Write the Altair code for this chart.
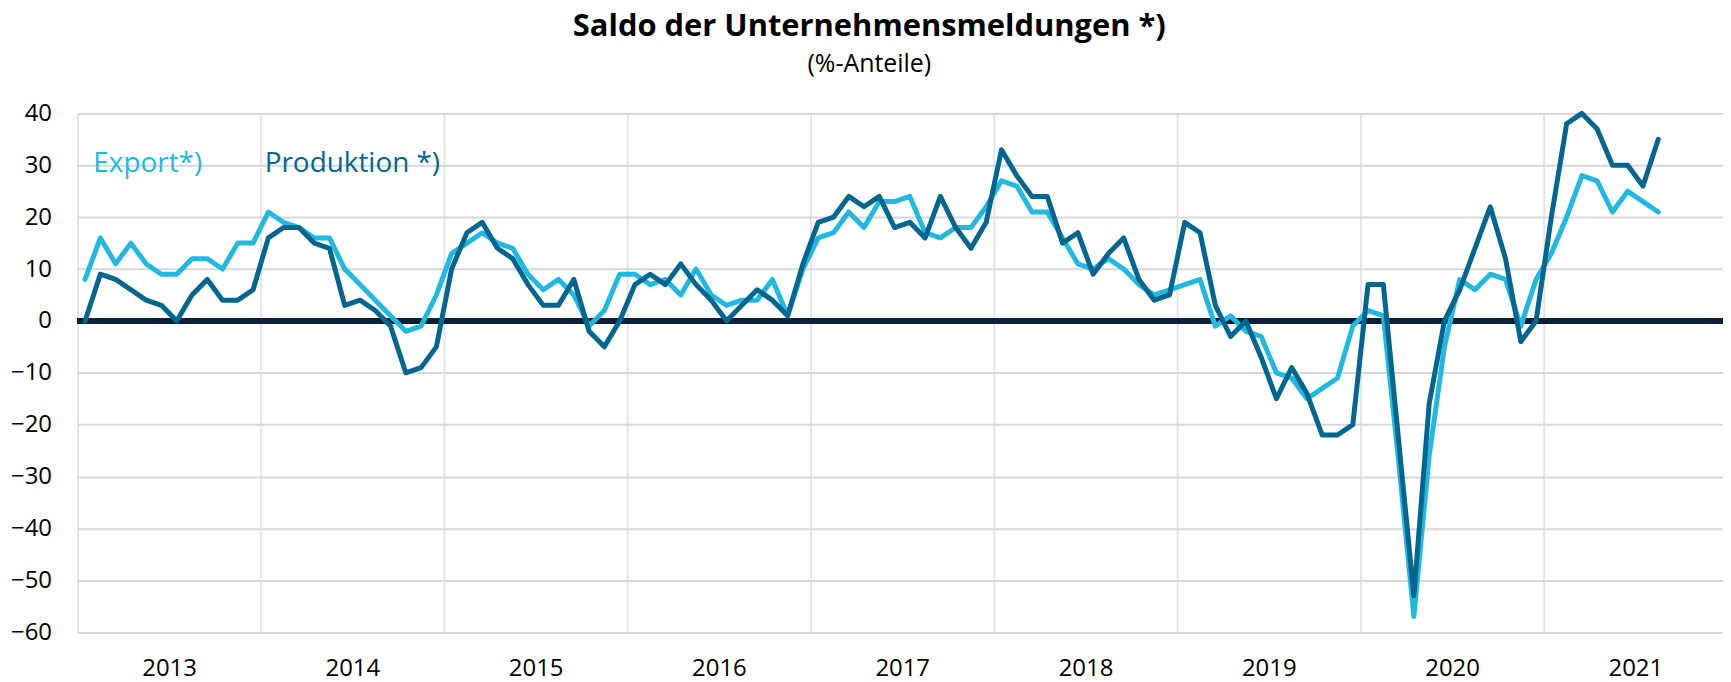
import altair as alt
import pandas as pd

# ---- data (monthly, Jan 2013 .. Aug 2021) ----
first_year = 2013
years = list(range(2013, 2022))
series_names = ["Export*)", "Produktion *)"]
series_colors = ["#21B9E0", "#00658F"]

export = [
    8, 16, 11, 15, 11, 9, 9, 12, 12, 10, 15, 15,          # 2013
    21, 19, 18, 16, 16, 10, 7, 4, 1, -2, -1, 5,           # 2014
    13, 15, 17, 15, 14, 9, 6, 8, 5, -1, 2, 9,             # 2015
    9, 7, 8, 5, 10, 5, 3, 4, 4, 8, 1, 10,                 # 2016
    16, 17, 21, 18, 23, 23, 24, 17, 16, 18, 18, 22,       # 2017
    27, 26, 21, 21, 16, 11, 10, 12, 10, 7, 5, 6,          # 2018
    7, 8, -1, 1, -2, -3, -10, -11, -15, -13, -11, -1,     # 2019
    2, 1, -27, -57, -26, -5, 8, 6, 9, 8, -1, 8,           # 2020
    13, 20, 28, 27, 21, 25, 23, 21,                       # 2021
]
produktion = [
    0, 9, 8, 6, 4, 3, 0, 5, 8, 4, 4, 6,                   # 2013
    16, 18, 18, 15, 14, 3, 4, 2, -1, -10, -9, -5,         # 2014
    10, 17, 19, 14, 12, 7, 3, 3, 8, -2, -5, 0,            # 2015
    7, 9, 7, 11, 7, 4, 0, 3, 6, 4, 1, 11,                 # 2016
    19, 20, 24, 22, 24, 18, 19, 16, 24, 18, 14, 19,       # 2017
    33, 28, 24, 24, 15, 17, 9, 13, 16, 8, 4, 5,           # 2018
    19, 17, 3, -3, 0, -7, -15, -9, -14, -22, -22, -20,    # 2019
    7, 7, -23, -53, -16, 0, 6, 14, 22, 12, -4, 0,         # 2020
    20, 38, 40, 37, 30, 30, 26, 35,                       # 2021
]
y_ticks = list(range(-60, 41, 10))

months = list(range(len(export)))
rows = []
for name, vals in zip(series_names, [export, produktion]):
    for m, v in zip(months, vals):
        rows.append({"m": m, "series": name, "value": v})
df = pd.DataFrame(rows)

# ---- layout ----
W = 1652
H = 520.8
month_px = 1656 / 108.0
x_end = -0.5 + W / month_px
boundaries = [-0.5 + 12 * k for k in range(len(years))]

FONT = "Open Sans"

x_enc = alt.X(
    "m:Q",
    scale=alt.Scale(domain=[-0.5, x_end], nice=False, zero=False),
    axis=alt.Axis(
        values=boundaries, grid=True, gridColor="#E3E5E7", gridWidth=2,
        domain=False, ticks=False, tickSize=0,
        labelExpr=f"'' + ({first_year} + round((datum.value + 0.5) / 12))",
        labelOffset=6 * month_px, labelPadding=24,
        labelFont=FONT, labelFontSize=24, labelColor="#000000",
        labelBound=False, labelFlush=False, labelOverlap=False, title=None,
    ),
)
y_enc = alt.Y(
    "value:Q",
    scale=alt.Scale(domain=[-60, 40], nice=False, zero=False),
    axis=alt.Axis(
        values=y_ticks, grid=True, gridColor="#D6D9DC", gridWidth=2,
        domain=False, ticks=False, tickSize=0, labelPadding=26,
        labelFont=FONT, labelFontSize=24, labelColor="#000000", title=None,
    ),
)

zero_line = alt.Chart(df).mark_rule(color="#0E2039", strokeWidth=4.5).encode(
    y=alt.datum(0)
)

lines = alt.Chart(df).mark_line(
    strokeWidth=5, strokeJoin="round", strokeCap="round"
).encode(
    x=x_enc,
    y=y_enc,
    color=alt.Color(
        "series:N",
        scale=alt.Scale(domain=series_names, range=series_colors),
        legend=alt.Legend(
            title=None, orient="none", legendX=-12, legendY=37,
            direction="horizontal", symbolSize=0, symbolStrokeWidth=0,
            symbolOpacity=0, labelOffset=0, columnPadding=34, padding=0,
            labelFont=FONT, labelFontSize=28, labelLimit=0,
            labelColor=alt.ExprRef(
                f"datum.value == '{series_names[0]}' ? '{series_colors[0]}' : '{series_colors[1]}'"
            ),
        ),
    ),
)

chart = alt.layer(zero_line, lines).properties(
    width=W,
    height=H,
    autosize="none",
    padding={"left": 69.7, "top": 104.5, "right": 0, "bottom": 52},
    background="white",
    title=alt.TitleParams(
        text="Saldo der Unternehmensmeldungen *)",
        subtitle="(%-Anteile)",
        font=FONT, fontSize=31, fontWeight="bold", color="#000000",
        subtitleFont=FONT, subtitleFontSize=25, subtitleColor="#000000",
        anchor="middle", frame="group", dx=-31, offset=24, subtitlePadding=9,
    ),
).configure_view(stroke=None)

chart.save("out.html", embed_options={"renderer": "svg", "actions": False})
